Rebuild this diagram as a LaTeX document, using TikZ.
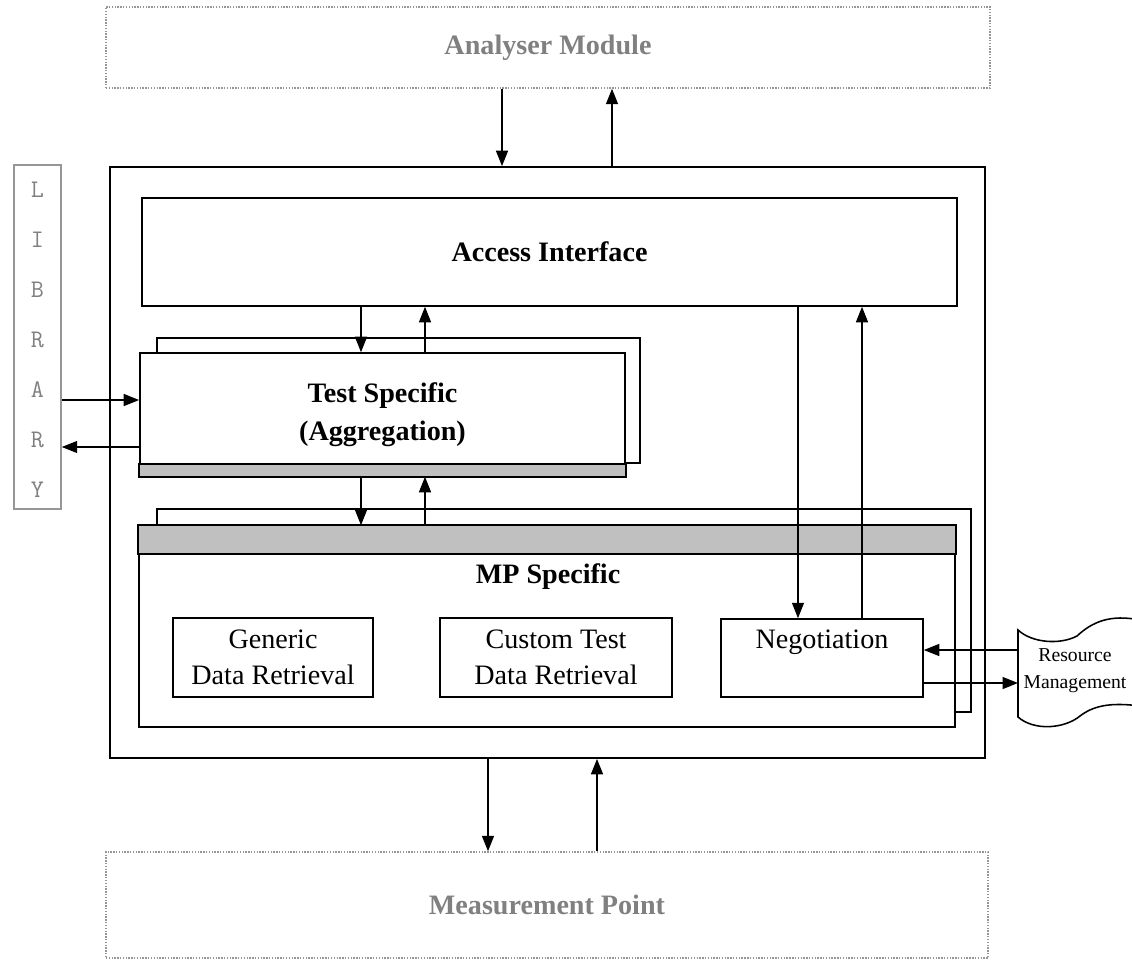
\documentclass[tikz,border=0pt]{standalone}
\usepackage{fontspec}
\setmainfont{Liberation Serif}
\usetikzlibrary{positioning,arrows.meta}

\definecolor{silver}{RGB}{192,192,192}
\definecolor{dimtext}{RGB}{128,128,128}
\definecolor{dimline}{RGB}{150,150,150}

\begin{document}
\begin{tikzpicture}[x=0.025cm, y=-0.025cm,
    box/.style={rectangle, draw=black, line width=1.1pt, fill=white, inner sep=0pt},
    ghost/.style={rectangle, draw=dimline, densely dotted, line width=1pt, inner sep=0pt,
        text=dimtext, font=\fontsize{20}{24}\selectfont\bfseries},
    title/.style={font=\fontsize{20}{27}\selectfont\bfseries, align=center},
    plain/.style={font=\fontsize{20}{26}\selectfont, align=center},
    libchar/.style={font=\ttfamily\fontsize{18}{18}\selectfont, text=dimtext},
    bar/.style={draw=black, line width=1.1pt, fill=silver},
    link/.style={line width=1.1pt, -{Triangle[length=11pt,width=8.5pt]}}
]
\useasboundingbox (0,0) rectangle (1132,961);

% outer modules
\node [ghost, minimum width=22.1cm, minimum height=2.025cm] (analyser) at (548,47.5) {Analyser Module};
\node [ghost, minimum width=22.05cm, minimum height=2.65cm] (mpoint) at (547,905) {Measurement Point};
\node [rectangle, draw=dimline, line width=1.1pt, inner sep=0pt,
    minimum width=1.175cm, minimum height=8.6cm] (lib) at (37.5,337) {};
\foreach \ch [count=\i] in {L,I,B,R,A,R,Y}
    \node [libchar] (lib\i) at (37.5,140+50*\i) {\ch};

% main block
\node [box, minimum width=21.875cm, minimum height=14.775cm] (outer) at (547.5,462.5) {};
\node [box, title, minimum width=20.375cm, minimum height=2.7cm] (access) at (549.5,252) {Access Interface};

% test specific
\node [box, minimum width=12.075cm, minimum height=3.125cm] (tsshadow) at (398.5,400.5) {};
\node [box, title, minimum width=12.125cm, minimum height=3.075cm] (tsfront) at (382.5,414.5) {Test Specific\\(Aggregation)};
\draw [bar] (tsfront.south west) rectangle ([yshift=0.325cm]tsfront.south east);

% mp specific
\node [box, minimum width=20.35cm, minimum height=5.075cm] (mpshadow) at (564,610.5) {};
\node [box, minimum width=20.4cm, minimum height=5.025cm] (mpfront) at (547,626.5) {};
\draw [bar] (mpfront.north west) rectangle ([yshift=-0.725cm]mpfront.north east);
\node [title] (mptitle) at (548,577) {MP Specific};
\node [box, plain, minimum width=5cm, minimum height=1.975cm] (generic) at (273,657.5) {Generic\\Data Retrieval};
\node [box, plain, minimum width=5.8cm, minimum height=1.975cm] (custom) at (556,657.5) {Custom Test\\Data Retrieval};
\node [box, minimum width=5.05cm, minimum height=1.95cm] (neg) at (822,658) {};
\node [plain] (negtext) at (822,642) {Negotiation};

% resource management
\begin{scope}
\clip (0,0) rectangle (1132,961);
\draw [line width=1.1pt, fill=white] (1018,630) .. controls (1032,643) and (1060,645) .. (1077,636)
    .. controls (1092,622) and (1110,614) .. (1140,620) -- (1140,706)
    .. controls (1110,702) and (1093,706) .. (1080,716)
    .. controls (1064,729) and (1034,731) .. (1018,717) -- cycle;
\end{scope}
\node [font=\fontsize{14}{19}\selectfont, align=center] (rm) at (1075,671) {Resource\\Management};
\coordinate (rmin) at (1018,650);
\coordinate (rmout) at (1018,683);

% connector positions
\coordinate (a1) at (502,0);
\coordinate (a2) at (612,0);
\coordinate (t1) at (361,0);
\coordinate (t2) at (425,0);
\coordinate (n1) at (798,0);
\coordinate (n2) at (862,0);
\coordinate (m1) at (488,0);
\coordinate (m2) at (597,0);
\coordinate (libin) at (0,400);
\coordinate (libout) at (0,447);

\draw [link] (analyser.south -| a1) -- (outer.north -| a1);
\draw [link] (outer.north -| a2) -- (analyser.south -| a2);
\draw [link] (access.south -| t1) -- (tsfront.north -| t1);
\draw [link] (tsfront.north -| t2) -- (access.south -| t2);
\draw [link] (tsfront.south -| t1) -- (mpfront.north -| t1);
\draw [link] (mpfront.north -| t2) -- (tsfront.south -| t2);
\draw [link] (access.south -| n1) -- (neg.north -| n1);
\draw [link] (neg.north -| n2) -- (access.south -| n2);
\draw [link] (lib.east |- libin) -- (tsfront.west |- libin);
\draw [link] (tsfront.west |- libout) -- (lib.east |- libout);
\draw [link] (rmin) -- (neg.east |- rmin);
\draw [link] (neg.east |- rmout) -- (rmout);
\draw [link] (outer.south -| m1) -- (mpoint.north -| m1);
\draw [link] (mpoint.north -| m2) -- (outer.south -| m2);

\end{tikzpicture}
\end{document}
